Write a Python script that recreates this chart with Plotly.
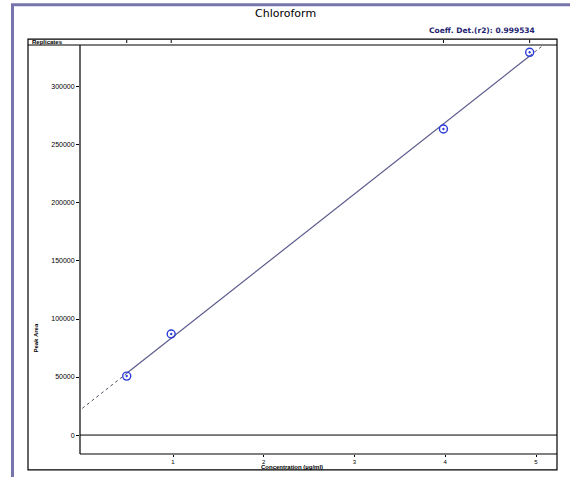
import numpy as np
import plotly.graph_objects as go

# ---- data ----
conc = [0.49, 0.98, 3.98, 4.93]
area = [50800, 87100, 263700, 329800]
y_ticks = [0, 50000, 100000, 150000, 200000, 250000, 300000]
x_ticks = [1, 2, 3, 4, 5]
title_text = "Chloroform"
r2_text = "Coeff. Det.(r2): 0.999534"
x_label = "Concentration (µg/ml)"
y_label = "Peak Area"
strip_label = "Replicates"
ext_left = 0.0
ext_right = 5.08

# ---- layout geometry (pixels) ----
W, H = 570, 477
L, R, T, B = 80, 557, 45, 456
pw, ph = R - L, B - T

def px(xp):
    return (xp - L) / pw

def py(yp):
    return (B - yp) / ph

slope, intercept = np.polyfit(conc, area, 1)
fx = np.array([min(conc), max(conc)])
lx = np.array([ext_left, min(conc)])
rx = np.array([max(conc), ext_right])

fig = go.Figure()
fig.add_trace(go.Scatter(x=lx, y=slope * lx + intercept, mode="lines",
                         line=dict(color="#505068", width=1, dash="dot"),
                         hoverinfo="skip", showlegend=False))
fig.add_trace(go.Scatter(x=rx, y=slope * rx + intercept, mode="lines",
                         line=dict(color="#505068", width=1, dash="dot"),
                         hoverinfo="skip", showlegend=False, cliponaxis=False))
fig.add_trace(go.Scatter(x=fx, y=slope * fx + intercept, mode="lines",
                         line=dict(color="#5a5a8c", width=1.2),
                         showlegend=False))
fig.add_trace(go.Scatter(x=conc, y=area, mode="markers",
                         marker=dict(symbol="circle-open-dot", size=8,
                                     color="#2a3ad8", line=dict(width=1.4)),
                         showlegend=False, cliponaxis=False))

shapes = []
# purple outer border
shapes.append(dict(type="rect", xref="paper", yref="paper",
                   x0=px(12.5), x1=px(590), y0=py(495), y1=py(4.5),
                   line=dict(color="#7676ac", width=3), layer="below"))
# black chart frame
shapes.append(dict(type="rect", xref="paper", yref="paper",
                   x0=px(28), x1=px(R), y0=py(472), y1=py(39),
                   line=dict(color="black", width=1.2)))
# strip bottom line
shapes.append(dict(type="line", xref="paper", yref="paper",
                   x0=px(28), x1=1, y0=1, y1=1, line=dict(color="black", width=1.2)))
# y axis line and x axis line
shapes.append(dict(type="line", xref="paper", yref="paper",
                   x0=0, x1=0, y0=0, y1=1, line=dict(color="black", width=1.2)))
shapes.append(dict(type="line", xref="paper", yref="paper",
                   x0=0, x1=1, y0=0, y1=0, line=dict(color="black", width=1.2)))
# zero line
shapes.append(dict(type="line", xref="paper", yref="y",
                   x0=0, x1=1, y0=0, y1=0, line=dict(color="black", width=1)))
# replicate ticks in strip
for c in conc:
    shapes.append(dict(type="line", xref="x", yref="paper",
                       x0=c, x1=c, y0=py(40), y1=py(43),
                       line=dict(color="black", width=1)))

annotations = [
    dict(text=title_text, xref="paper", yref="paper", x=px(285), y=py(13),
         yanchor="middle", showarrow=False,
         font=dict(family="DejaVu Sans", size=11, color="black")),
    dict(text="<b>" + r2_text + "</b>", xref="paper", yref="paper", x=px(537), y=py(30),
         xanchor="right", yanchor="middle", showarrow=False,
         font=dict(family="DejaVu Sans", size=7.5, color="#1e1e70")),
    dict(text="<b>" + strip_label + "</b>", xref="paper", yref="paper",
         x=px(30), y=py(42), xanchor="left", yanchor="middle", showarrow=False,
         font=dict(family="Arial", size=6, color="black")),
    dict(text="<b>" + y_label + "</b>", xref="paper", yref="paper",
         x=px(36), y=py(340), xanchor="center", yanchor="middle",
         textangle=-90, showarrow=False,
         font=dict(family="Arial", size=6, color="black")),
    dict(text="<b>" + x_label + "</b>", xref="paper", yref="paper",
         x=px(292), y=py(469), yanchor="middle", showarrow=False,
         font=dict(family="Arial", size=6, color="black")),
]

y0v = -19 * 300000 / 349
y1v = (436 - 45) * 300000 / 349
x0v = (80 - 82.25) / 90.75
x1v = (557 - 82.25) / 90.75

fig.update_layout(
    width=W, height=H,
    margin=dict(l=L, r=W - R, t=T, b=H - B),
    paper_bgcolor="white", plot_bgcolor="white",
    shapes=shapes, annotations=annotations,
    xaxis=dict(range=[x0v, x1v], tickvals=x_ticks, ticktext=[str(v) for v in x_ticks],
               ticks="outside", ticklen=2, tickcolor="black", showgrid=False,
               zeroline=False, showline=False,
               tickfont=dict(family="Arial", size=6, color="black")),
    yaxis=dict(range=[y0v, y1v], tickvals=y_ticks, ticktext=[str(v) for v in y_ticks],
               ticks="outside", ticklen=3, tickcolor="black", showgrid=False,
               zeroline=False, showline=False,
               tickfont=dict(family="Arial", size=7, color="black")),
)

fig.write_html("out.html")
